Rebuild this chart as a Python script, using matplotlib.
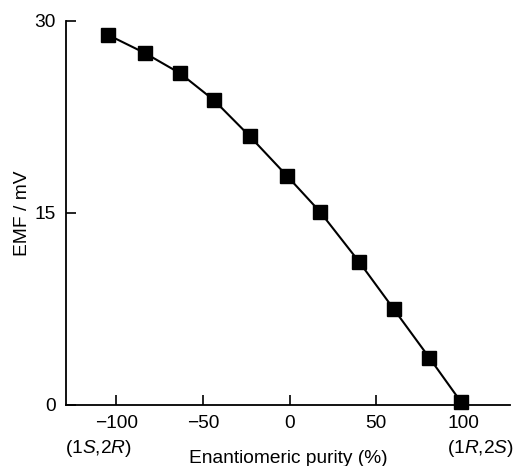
import matplotlib
matplotlib.use('Agg')
from matplotlib import pyplot as plt
from matplotlib import transforms

plt.rcParams['font.family'] = ['Liberation Sans', 'DejaVu Sans']
plt.rcParams['mathtext.fontset'] = 'custom'
plt.rcParams['mathtext.it'] = 'Liberation Sans:italic'
plt.rcParams['mathtext.rm'] = 'Liberation Sans'

# 数据：对映体纯度 (%) 与 EMF (mV)
purity = [-104.5, -83.5, -63, -43.5, -23, -1.5, 17.5, 40, 60, 80.5, 99]
emf = [28.9, 27.5, 25.9, 23.8, 21.0, 17.9, 15.1, 11.2, 7.5, 3.7, 0.2]

x_ticks = [-100, -50, 0, 50, 100]
x_tick_labels = ['\u2212100', '\u221250', '0', '50', '100']
y_ticks = [0, 15, 30]

fs = 13.8

fig = plt.figure(figsize=(5.14, 4.66), dpi=100)
ax = fig.add_axes([0.128, 0.131, 0.864, 0.824])

ax.plot(purity, emf, color='black', lw=1.5, marker='s', markersize=9.8,
        markerfacecolor='black', markeredgecolor='black', clip_on=False)

ax.set_xlim(-129, 127)
ax.set_ylim(0, 30)
ax.set_xticks(x_ticks)
ax.set_xticklabels(x_tick_labels)
ax.set_yticks(y_ticks)

for s in ['top', 'right']:
    ax.spines[s].set_visible(False)
for s in ['left', 'bottom']:
    ax.spines[s].set_linewidth(1.3)

ax.tick_params(direction='in', length=7, width=1.2, labelsize=fs)
ax.tick_params(axis='x', pad=7)
ax.tick_params(axis='y', pad=7)

ax.set_ylabel('EMF / mV', fontsize=fs, labelpad=3)
ax.set_xlabel('Enantiomeric purity (%)', fontsize=fs, labelpad=13)

# 两端的构型标注
trans = transforms.blended_transform_factory(ax.transData, ax.transAxes)
ax.text(-91, -0.086, '(1$\\it{S}$,2$\\it{R}$)', transform=trans, fontsize=fs,
        ha='right', va='top')
ax.text(90.5, -0.086, '(1$\\it{R}$,2$\\it{S}$)', transform=trans, fontsize=fs,
        ha='left', va='top')

plt.savefig('out.png', dpi=100)
